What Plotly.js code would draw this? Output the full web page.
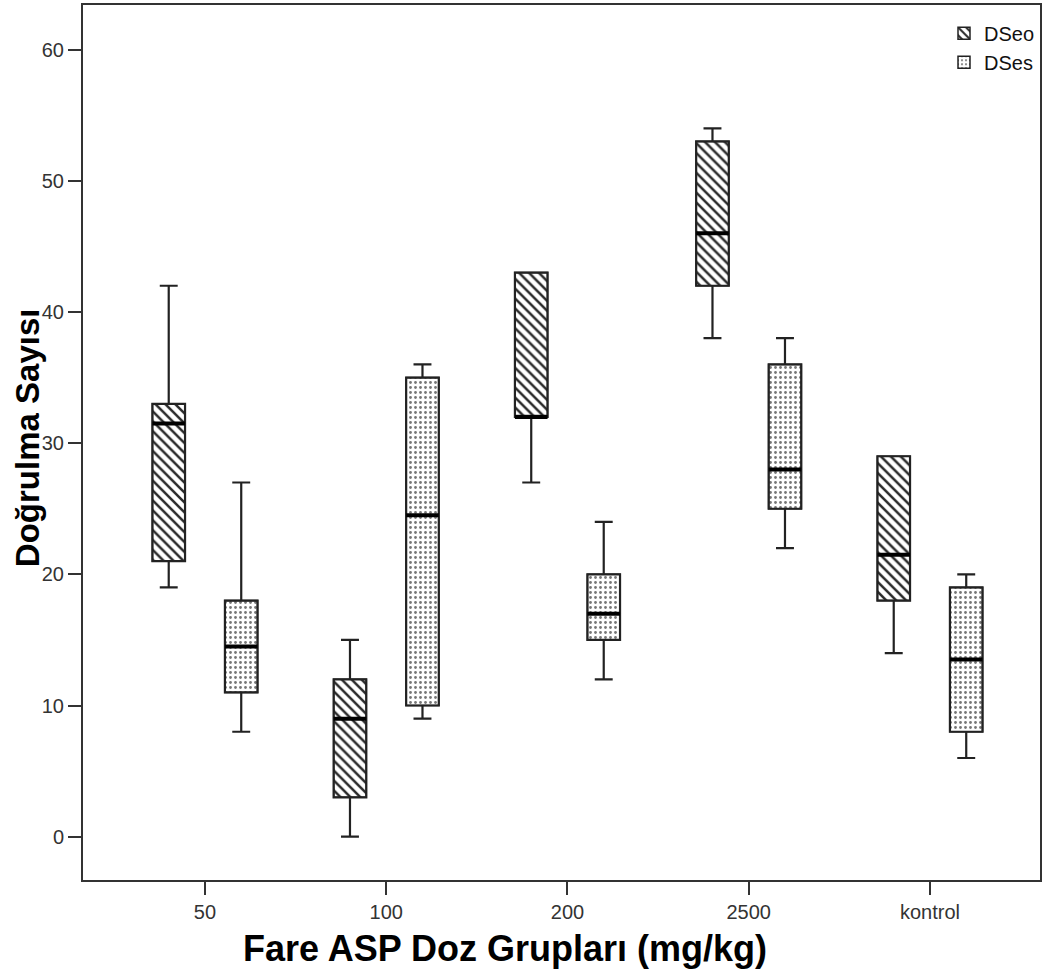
<!DOCTYPE html>
<html>
<head>
<meta charset="utf-8">
<script src="https://cdn.plot.ly/plotly-3.0.1.min.js"></script>
<style>
  html, body { margin: 0; padding: 0; background: #fff; }
  #chart { width: 1044px; height: 978px; }
</style>
</head>
<body>
<div id="chart"></div>
<script>
// Dose groups (mg/kg) on the x axis
const categories = ['50', '100', '200', '2500', 'kontrol'];

// DSeo: five-number summaries per group
const dseoMin = [19, 0, 27, 38, 14];
const dseoQ1 = [21, 3, 32, 42, 18];
const dseoMed = [31.5, 9, 32, 46, 21.5];
const dseoQ3 = [33, 12, 43, 53, 29];
const dseoMax = [42, 15, 43, 54, 29];

// DSes: five-number summaries per group
const dsesMin = [8, 9, 12, 22, 6];
const dsesQ1 = [11, 10, 15, 25, 8];
const dsesMed = [14.5, 24.5, 17, 28, 13.5];
const dsesQ3 = [18, 35, 20, 36, 19];
const dsesMax = [27, 36, 24, 38, 20];

const yTicks = [0, 10, 20, 30, 40, 50, 60];

// Layout of the paired boxes inside each group
const SHIFT = 0.2;
const BOXW = 0.18;
const INK = '#222';
const FONT = 'Liberation Sans, Arial, sans-serif';

const idx = categories.map((_, i) => i);

function series(name, shift, mins, q1, med, q3, maxs, pattern) {
  const xs = idx.map(i => i + shift);
  // patterned box body
  const body = {
    type: 'bar', name: name, x: xs, base: q1,
    y: q1.map((v, i) => q3[i] - v),
    width: BOXW,
    marker: { color: '#fff', pattern: pattern, line: { color: INK, width: 1.5 } },
    hoverinfo: 'skip', legendrank: shift < 0 ? 1 : 2
  };
  // whiskers, caps and outline
  const box = {
    type: 'box', name: name, x: xs,
    q1: q1, median: med, q3: q3, lowerfence: mins, upperfence: maxs,
    width: BOXW, whiskerwidth: 0.55, boxpoints: false,
    fillcolor: 'rgba(0,0,0,0)', line: { color: INK, width: 2.2 },
    showlegend: false
  };
  // heavy median bar
  const mx = [], my = [];
  xs.forEach((x, i) => { mx.push(x - BOXW / 2, x + BOXW / 2, null); my.push(med[i], med[i], null); });
  const median = {
    type: 'scatter', mode: 'lines', x: mx, y: my,
    line: { color: '#000', width: 4 }, showlegend: false, hoverinfo: 'skip'
  };
  return [body, box, median];
}

const traces = [
  ...series('DSeo', -SHIFT, dseoMin, dseoQ1, dseoMed, dseoQ3, dseoMax,
    { shape: '\\', size: 7, solidity: 0.36, fgcolor: '#2a2a2a', bgcolor: '#fff' }),
  ...series('DSes', SHIFT, dsesMin, dsesQ1, dsesMed, dsesQ3, dsesMax,
    { shape: '.', size: 5, solidity: 0.24, fgcolor: '#777', bgcolor: '#fff' })
];

const tickFont = { family: FONT, size: 20, color: '#333' };

const layout = {
  width: 1044, height: 978,
  margin: { l: 83, r: 4, t: 5, b: 98 },
  paper_bgcolor: '#fff', plot_bgcolor: '#fff',
  barmode: 'overlay', boxmode: 'overlay',
  showlegend: true,
  legend: {
    x: 1, xanchor: 'right', y: 0.99, yanchor: 'top',
    bgcolor: 'rgba(0,0,0,0)', borderwidth: 0,
    font: { family: FONT, size: 20, color: '#111' },
    itemwidth: 30, tracegroupgap: 0
  },
  xaxis: {
    range: [-0.673, 4.607], tickmode: 'array',
    tickvals: idx, ticktext: categories,
    ticks: 'outside', ticklen: 13, tickwidth: 2, tickcolor: '#333',
    showline: true, linecolor: '#333', linewidth: 2, mirror: true,
    showgrid: false, zeroline: false, tickfont: tickFont
  },
  yaxis: {
    range: [-3.3, 63.4], tickmode: 'array', tickvals: yTicks,
    ticks: 'outside', ticklen: 13, tickwidth: 2, tickcolor: '#333',
    showline: true, linecolor: '#333', linewidth: 2, mirror: true,
    showgrid: false, zeroline: false, tickfont: tickFont
  },
  annotations: [{
    text: '<b>Fare ASP Doz Grupları (mg/kg)</b>',
    xref: 'paper', yref: 'paper', x: 0.441, y: -0.078,
    xanchor: 'center', yanchor: 'middle', showarrow: false,
    font: { family: FONT, size: 36, color: '#000' }
  }, {
    text: '<b>Doğrulma Sayısı</b>', textangle: -90,
    xref: 'paper', yref: 'paper', x: -0.0585, y: 0.505,
    xanchor: 'center', yanchor: 'middle', showarrow: false,
    font: { family: FONT, size: 33, color: '#000' }
  }]
};

Plotly.newPlot('chart', traces, layout, { displayModeBar: false, staticPlot: true });
</script>
</body>
</html>
